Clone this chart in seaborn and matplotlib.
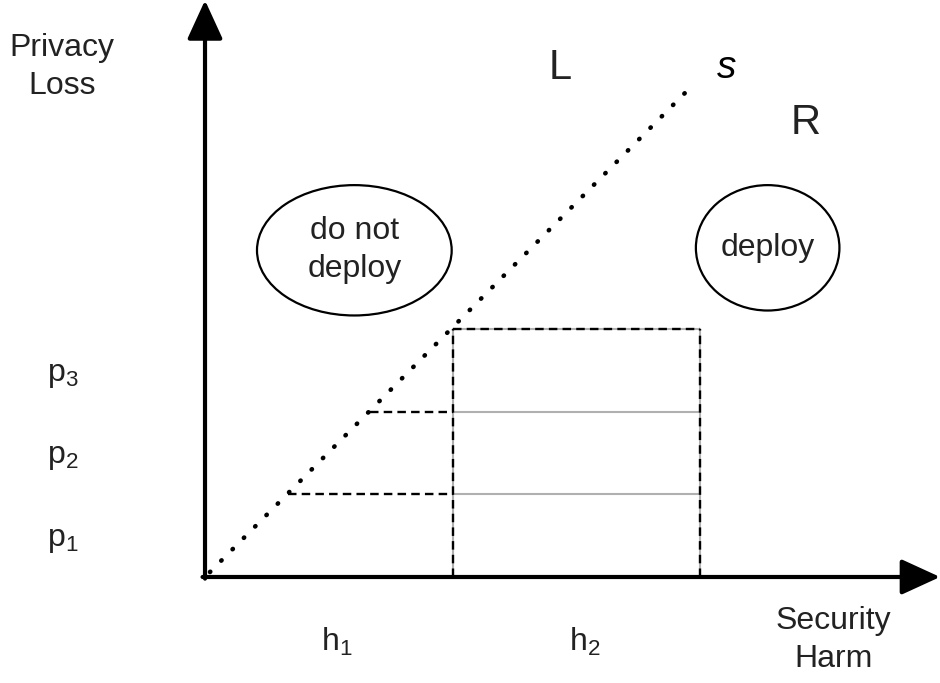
import matplotlib
matplotlib.use("Agg")
import matplotlib.pyplot as plt
from matplotlib.patches import Ellipse
import seaborn as sns

# diagram values, in grid units (origin = axes corner)
privacy_levels = [1, 2, 3]
privacy_labels = ["p$_\\mathrm{1}$", "p$_\\mathrm{2}$", "p$_\\mathrm{3}$"]
privacy_label_y = [0.45, 1.45, 2.45]
harm_bounds = [3, 6]
harm_labels = ["h$_\\mathrm{1}$", "h$_\\mathrm{2}$"]
harm_label_x = [1.6, 4.6]
s_x = [0.06, 5.88]
s_y = [0.06, 5.93]
regions = ["do not\ndeploy", "deploy"]
region_x = [1.81, 6.82]
region_y = [3.96, 3.99]
region_w = [2.36, 1.74]
region_h = [1.58, 1.52]

sns.set_style("white")
plt.rcParams["font.family"] = ["Liberation Sans", "DejaVu Sans"]
plt.rcParams["mathtext.fontset"] = "custom"
plt.rcParams["mathtext.rm"] = "Liberation Sans"

fig = plt.figure(figsize=(9.4, 6.83), dpi=100)
ax = fig.add_axes([0, 0, 1, 1])
ax.set_xlim(-2.485, 8.909)
ax.set_ylim(-1.285, 6.994)
ax.axis("off")

# axes with arrows
arrow = dict(arrowstyle="-|>,head_length=1.2,head_width=0.55", mutation_scale=20,
             lw=3, color="black", shrinkA=0, shrinkB=0)
ax.annotate("", xy=(0, 6.99), xytext=(0, -0.02), arrowprops=arrow)
ax.annotate("", xy=(8.91, 0), xytext=(-0.03, 0), arrowprops=arrow)

# grey grid box
grey = "#b0b0b0"
for p in privacy_levels:
    sns.lineplot(x=harm_bounds, y=[p, p], ax=ax, color=grey, lw=1.5,
                 estimator=None, sort=False)
for h in harm_bounds:
    sns.lineplot(x=[h, h], y=[0, privacy_levels[-1]], ax=ax, color=grey, lw=1.5,
                 estimator=None, sort=False)

# dashed guides
dash = (0, (3.6, 2.2))
for p in privacy_levels[:2]:
    sns.lineplot(x=[p, harm_bounds[0]], y=[p, p], ax=ax, color="black", lw=1.7,
                 linestyle=dash, estimator=None, sort=False)
sns.lineplot(x=harm_bounds, y=[privacy_levels[-1]] * 2, ax=ax, color="black", lw=1.7,
             linestyle=dash, estimator=None, sort=False)
for h in harm_bounds:
    sns.lineplot(x=[h, h], y=[0, privacy_levels[-1]], ax=ax, color="black", lw=1.7,
                 linestyle=dash, estimator=None, sort=False)

# dotted s line
sns.lineplot(x=s_x, y=s_y, ax=ax, color="black", lw=3.3,
             linestyle=(0, (0.1, 3.4)), estimator=None, sort=False)
ax.lines[-1].set_dash_capstyle("round")

# regions
for name, cx, cy, w, h in zip(regions, region_x, region_y, region_w, region_h):
    ax.add_patch(Ellipse((cx, cy), w, h, fill=False, lw=1.6, ec="black"))
    ax.text(cx, cy, name, ha="center", va="center", fontsize=23, color="#222222",
            linespacing=1.35)

# labels
ax.text(-1.73, 6.18, "Privacy\nLoss", ha="center", va="center", fontsize=23,
        color="#222222", linespacing=1.35)
ax.text(7.62, -0.76, "Security\nHarm", ha="center", va="center", fontsize=23,
        color="#222222", linespacing=1.35)
for lab, y in zip(privacy_labels, privacy_label_y):
    ax.text(-1.73, y, lab, ha="center", va="center", fontsize=23, color="#222222")
for lab, x in zip(harm_labels, harm_label_x):
    ax.text(x, -0.79, lab, ha="center", va="center", fontsize=23, color="#222222")
ax.text(4.30, 6.17, "L", ha="center", va="center", fontsize=30, color="#222222")
ax.text(7.28, 5.50, "R", ha="center", va="center", fontsize=30, color="#222222")
ax.text(6.32, 6.17, "s", ha="center", va="center", fontsize=28, style="italic",
        color="black")

fig.savefig("out.png", dpi=100)
